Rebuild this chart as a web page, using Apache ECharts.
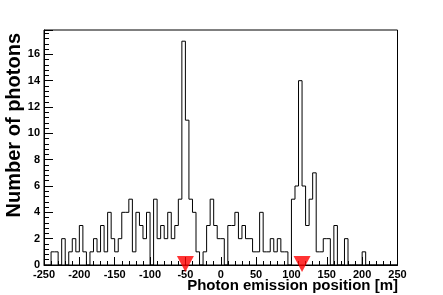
<!DOCTYPE html>
<html><head><meta charset="utf-8">
<script src="https://cdn.jsdelivr.net/npm/echarts@6/dist/echarts.min.js"></script>
<style>html,body{margin:0;padding:0;background:#fff}#c{width:443px;height:295px}</style>
</head><body><div id="c"></div>
<script>
// Histogram: 100 bins of 5 m from -250 m to 250 m
const binStart = -250;
const binWidth = 5;
const counts = [
  0, 0, 1, 1, 0, 2, 0, 1, 2, 1,
  3, 1, 0, 1, 2, 1, 3, 1, 4, 2,
  1, 2, 4, 4, 5, 1, 4, 3, 2, 4,
  0, 5, 2, 3, 2, 4, 2, 3, 5, 17,
  11, 5, 4, 1, 0, 1, 3, 5, 3, 2,
  2, 0, 3, 3, 4, 2, 3, 2, 2, 1,
  1, 4, 1, 1, 2, 1, 2, 1, 1, 0,
  5, 6, 14, 6, 3, 5, 7, 1, 1, 2,
  2, 0, 3, 0, 0, 2, 0, 0, 0, 0,
  1, 0, 0, 0, 0, 0, 0, 0, 0, 0
];
const markerPositions = [-50, 115];
const xTickLabels = [-250, -200, -150, -100, -50, 0, 50, 100, 150, 200, 250];
const yTickLabels = [0, 2, 4, 6, 8, 10, 12, 14, 16];
const xTitle = 'Photon emission position [m]';
const yTitle = 'Number of photons';

const stepData = counts.map((c, i) => [binStart + i * binWidth, c]);
stepData.push([binStart + counts.length * binWidth, counts[counts.length - 1]]);

const FONT = '"Liberation Sans", Arial, Helvetica, sans-serif';
const chart = echarts.init(document.getElementById('c'), null, {renderer: 'canvas'});
chart.setOption({
  animation: false,
  backgroundColor: '#fff',
  grid: {left: 44, right: 45.5, top: 30, bottom: 30, show: true, borderColor: '#000', borderWidth: 1, backgroundColor: 'transparent'},
  xAxis: {
    type: 'value', min: xTickLabels[0], max: xTickLabels[xTickLabels.length - 1], interval: 50,
    axisLine: {show: true, onZero: false, lineStyle: {color: '#000', width: 1}},
    axisTick: {show: true, inside: true, length: 8, lineStyle: {color: '#000'}},
    minorTick: {show: true, splitNumber: 5, length: 4, lineStyle: {color: '#000'}},
    splitLine: {show: false},
    axisLabel: {show: true, color: '#000', fontFamily: FONT, fontWeight: 'bold', fontSize: 11, margin: 4,
      formatter: v => xTickLabels.includes(v) ? String(v) : ''}
  },
  yAxis: {
    type: 'value', min: 0, max: 17.85, interval: 2,
    axisLine: {show: true, onZero: false, lineStyle: {color: '#000', width: 1}},
    axisTick: {show: true, inside: true, length: 9, lineStyle: {color: '#000'}},
    minorTick: {show: true, splitNumber: 5, length: 5, lineStyle: {color: '#000'}},
    splitLine: {show: false},
    axisLabel: {show: true, color: '#000', fontFamily: FONT, fontWeight: 'bold', fontSize: 11, margin: 4,
      showMaxLabel: false,
      formatter: v => yTickLabels.includes(v) ? String(v) : ''}
  },
  series: [
    {type: 'line', step: 'end', data: stepData, symbol: 'none', silent: true,
     lineStyle: {color: '#000', width: 1}},
    {type: 'scatter', data: markerPositions.map(p => [p, 0]), symbol: 'triangle', symbolRotate: 180,
     symbolSize: [17, 16], symbolOffset: [0, -1], clip: false, silent: true, z: 5,
     itemStyle: {color: '#ff0000'}}
  ],
  graphic: [
    {type: 'text', x: 398, y: 286, style: {text: xTitle, fill: '#000', font: 'bold 15px ' + FONT, textAlign: 'right', textVerticalAlign: 'middle'}},
    {type: 'text', x: 14, y: 33, rotation: Math.PI / 2, style: {text: yTitle, fill: '#000', font: 'bold 20px ' + FONT, textAlign: 'right', textVerticalAlign: 'middle'}}
  ]
});
</script></body></html>
